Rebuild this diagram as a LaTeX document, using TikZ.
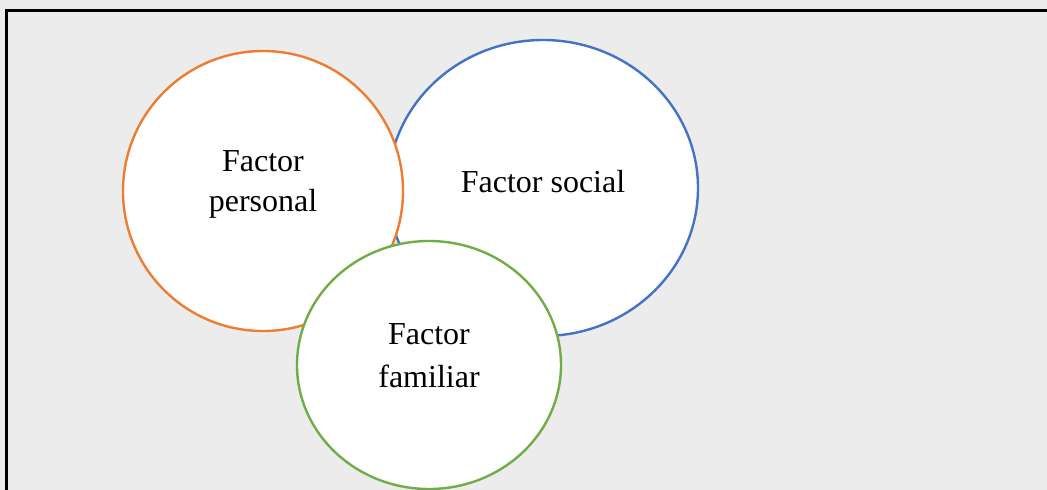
\documentclass[tikz,border=0pt]{standalone}
\usepackage{fontspec}
\setmainfont{Liberation Serif}
\definecolor{bgc}{RGB}{236,236,236}
\definecolor{corange}{RGB}{237,125,49}
\definecolor{cblue}{RGB}{68,114,196}
\definecolor{cgreen}{RGB}{112,173,71}
\usetikzlibrary{shapes.geometric}
\tikzset{
  circ/.style={ellipse, draw, line width=2.4pt, fill=white, inner sep=0pt},
  txt/.style={align=center, inner sep=0pt, font=\fontsize{32}{40}\selectfont},
}
\begin{document}
\begin{tikzpicture}[x=1pt,y=-1pt]
\useasboundingbox (0,0) rectangle (1047,490);
\fill[bgc] (0,0) rectangle (1047,490);
\draw[line width=3pt] (6,495) -- (6,10) -- (1052,10);
\node[circ, draw=cblue, minimum width=310pt, minimum height=296pt] (social) at (543,188) {};
\node[circ, draw=corange, minimum width=280pt, minimum height=280pt] (personal) at (263,191) {};
\node[circ, draw=cgreen, minimum width=264pt, minimum height=248pt] (familiar) at (429,365) {};
\node[txt] (tsocial) at (543,182) {Factor social};
\node[txt] (tpersonal) at (263,184) {Factor\\personal};
\node[txt, font=\fontsize{32}{43}\selectfont] (tfamiliar) at (429,356) {Factor\\familiar};
\end{tikzpicture}
\end{document}
